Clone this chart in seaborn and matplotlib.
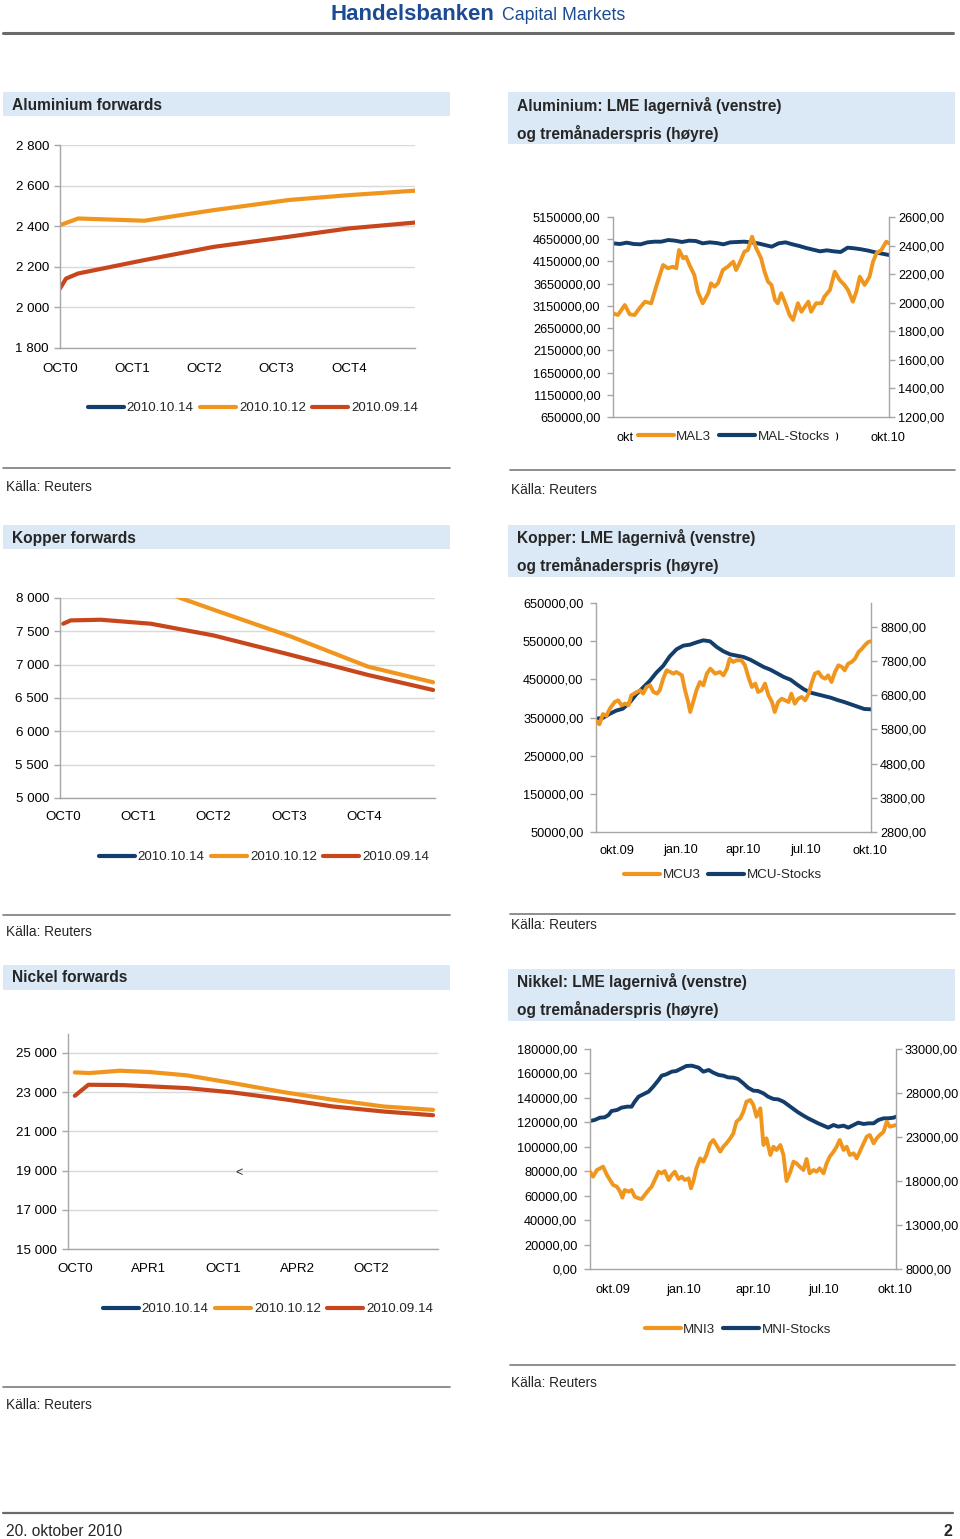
import numpy as np
import pandas as pd
import matplotlib
matplotlib.use("Agg")
import matplotlib.pyplot as plt
import seaborn as sns
from matplotlib.patches import Rectangle
from matplotlib.lines import Line2D
from matplotlib.ticker import FuncFormatter

sns.set_theme(style="white")
plt.rcParams['font.family'] = ['Liberation Sans', 'DejaVu Sans']

# ------------------------------------------------------------------ data
fwd_series = ["2010.10.14", "2010.10.12", "2010.09.14"]

# Aluminium forwards (months from OCT0)
al_ticks = [0, 12, 24, 36, 48]
al_labels = ["OCT0", "OCT1", "OCT2", "OCT3", "OCT4"]
al_1014_m, al_1014 = [], []
al_1012_m = [0, 3, 14, 25.5, 38, 48, 59]
al_1012 = [2405, 2438, 2427, 2479, 2529, 2553, 2575]
al_0914_m = [0, 1, 3, 14, 25.5, 38, 48, 59]
al_0914 = [2093, 2142, 2167, 2233, 2298, 2348, 2389, 2418]

# Copper forwards
cu_ticks = [0, 12, 24, 36, 48]
cu_labels = ["OCT0", "OCT1", "OCT2", "OCT3", "OCT4"]
cu_1014_m, cu_1014 = [], []
cu_1012_m = [0, 12, 18.7, 24, 36.3, 48.6, 59]
cu_1012 = [8550, 8250, 8000, 7824, 7423, 6971, 6736]
cu_0914_m = [0, 1.2, 6, 14, 24, 36.3, 48.6, 59]
cu_0914 = [7614, 7664, 7674, 7614, 7438, 7147, 6846, 6620]

# Nickel forwards
ni_ticks = [0, 6, 12, 18, 24]
ni_labels = ["OCT0", "APR1", "OCT1", "APR2", "OCT2"]
ni_1014_m, ni_1014 = [], []
ni_1012_m = [0, 1.2, 3.65, 6.1, 9.1, 12.8, 16.9, 20.9, 25, 29]
ni_1012 = [24010, 23976, 24096, 24027, 23857, 23464, 23003, 22611, 22270, 22099]
ni_0914_m = [0, 1.1, 3.9, 9.1, 12.8, 16.9, 20.9, 25, 29]
ni_0914 = [22816, 23379, 23362, 23208, 22986, 22645, 22270, 22014, 21826]

# LME time series (days from 2009-09-01)
START = pd.Timestamp("2009-09-01")
END = pd.Timestamp("2010-10-03")
lme_tick_dates = ["2009-10-01", "2010-01-01", "2010-04-01", "2010-07-01", "2010-10-01"]
lme_tick_labels = ["okt.09", "jan.10", "apr.10", "jul.10", "okt.10"]

mal3_day = [0, 7, 17, 24, 31, 38, 46, 55, 62, 72, 79, 86, 91, 95, 101, 105, 110, 117, 122, 129,
            137, 141, 146, 151, 158, 165, 173, 177, 182, 189, 194, 200, 206, 213, 218, 223, 228,
            233, 237, 242, 247, 254, 259, 266, 271, 276, 281, 285, 292, 300, 304, 312, 319, 326,
            333, 338, 345, 350, 355, 362, 369, 374, 379, 386, 393, 397]
mal3 = [1926, 1914, 1984, 1919, 1914, 1961, 2007, 1996, 2112, 2264, 2241, 2252, 2241, 2369, 2311,
        2322, 2264, 2194, 2077, 1996, 2066, 2136, 2112, 2136, 2229, 2252, 2287, 2229, 2276, 2357,
        2369, 2462, 2381, 2311, 2217, 2147, 2124, 2019, 1996, 2066, 2007, 1914, 1879, 1996, 1937,
        1972, 2007, 1937, 1996, 1996, 2042, 2089, 2217, 2159, 2124, 2089, 2007, 2077, 2182, 2124,
        2182, 2287, 2346, 2369, 2427, 2416]
mal_stocks = [4557500, 4542500, 4572500, 4542500, 4535000, 4580000, 4595000, 4595000, 4632500,
              4617500, 4587500, 4617500, 4610000, 4557500, 4580000, 4565000, 4535000, 4580000,
              4587500, 4595000, 4580000, 4557500, 4520000, 4482500, 4557500, 4580000, 4535000,
              4497500, 4452500, 4415000, 4377500, 4400000, 4377500, 4362500, 4460000, 4445000,
              4422500, 4392500, 4355000, 4325000, 4295000]

mcu3_day = [0, 5, 10, 15, 20, 27, 32, 37, 42, 47, 51, 59, 64, 68, 73, 78, 83, 88, 92, 97, 102, 107,
            112, 116, 124, 128, 133, 136, 141, 145, 150, 155, 160, 165, 172, 179, 184, 189, 193,
            198, 203, 210, 215, 220, 225, 230, 234, 239, 244, 249, 254, 258, 263, 268, 273, 278,
            282, 287, 292, 297, 302, 307, 311, 316, 321, 326, 331, 335, 340, 345, 350, 355, 359,
            364, 369, 374, 379, 384, 388, 393, 397]
mcu3 = [6050, 5950, 6250, 6200, 6409, 6604, 6652, 6506, 6555, 6506, 6799, 6896, 6945, 6847, 7042,
        7091, 6896, 6847, 6945, 7286, 7530, 7481, 7433, 7481, 7384, 6994, 6604, 6311, 6652, 6945,
        7189, 7091, 7433, 7579, 7433, 7481, 7384, 7579, 7872, 7774, 7823, 7823, 7677, 7335, 7042,
        7140, 6896, 6945, 7140, 6799, 6604, 6311, 6604, 6701, 6652, 6604, 6847, 6555, 6701, 6750,
        6652, 6847, 7140, 7433, 7481, 7335, 7286, 7384, 7189, 7481, 7677, 7628, 7530, 7725, 7774,
        7872, 8067, 8164, 8262, 8359, 8379]
mcu_stocks = [347000, 348700, 359200, 367900, 373100, 388800, 410700, 428200, 445600, 467500,
              484900, 510300, 528600, 538200, 540800, 546900, 552200, 549600, 534700, 523400,
              515500, 512000, 508500, 501500, 491900, 482300, 475300, 465700, 456100, 449100,
              436000, 423800, 415100, 410700, 406300, 401900, 395800, 390600, 384500, 378400,
              372300, 371400]

mni3_day = [0, 4, 9, 13, 17, 22, 26, 30, 35, 39, 42, 45, 50, 54, 58, 63, 67, 71, 76, 80, 84, 89, 93,
            97, 102, 106, 110, 115, 119, 123, 128, 131, 134, 138, 143, 147, 151, 156, 160, 164, 169,
            173, 177, 182, 186, 190, 195, 199, 203, 208, 212, 216, 221, 225, 229, 234, 238, 242,
            247, 251, 255, 260, 264, 268, 272, 277, 281, 285, 290, 294, 298, 303, 307, 311, 316,
            320, 324, 329, 333, 337, 342, 346, 350, 355, 359, 363, 368, 372, 376, 381, 385, 389,
            394, 397]
mni3 = [19060, 18492, 19249, 19439, 19628, 18681, 18113, 17545, 17355, 16787, 16105, 16977, 16787,
        16977, 16219, 16030, 15954, 16408, 16977, 17355, 18113, 19060, 18871, 19136, 18113, 18681,
        19060, 18227, 18492, 18113, 18302, 17166, 17924, 19439, 20575, 20196, 20954, 22280, 22659,
        22090, 21333, 21901, 22280, 22848, 23416, 24742, 25121, 25878, 27015, 27204, 26636, 25310,
        26257, 22090, 22848, 20954, 21901, 21522, 22090, 20954, 17999, 19060, 20196, 20007, 19628,
        19249, 20499, 18871, 19249, 19060, 19439, 18871, 20007, 20765, 21333, 21901, 22659, 21522,
        21901, 20954, 21143, 20575, 21333, 22280, 23037, 23226, 22280, 22848, 23226, 23605, 24742,
        24174, 24288, 24364]
mni_stock_day = [0, 6, 13, 19, 24, 28, 35, 41, 48, 54, 58, 63, 69, 76, 82, 89, 93, 99, 106, 112,
                 119, 125, 132, 141, 147, 154, 160, 167, 173, 179, 186, 192, 199, 205, 212, 218,
                 225, 231, 238, 244, 251, 257, 264, 270, 277, 283, 290, 296, 303, 309, 316, 322,
                 329, 335, 342, 348, 355, 361, 368, 374, 381, 387, 394, 397]
mni_stocks = [121096, 121914, 123823, 124096, 126005, 129277, 130096, 132005, 132823, 132823,
              136913, 141004, 142913, 145094, 149185, 154637, 158184, 159274, 161456, 162001,
              164183, 166092, 166364, 164728, 161456, 162820, 160638, 158729, 158184, 156820,
              156547, 155456, 151911, 148366, 145912, 145639, 143730, 141004, 139095, 138822,
              136913, 134186, 130913, 128186, 125460, 123278, 121096, 119187, 117278, 115642,
              117823, 116460, 117278, 115642, 117823, 119732, 118642, 119187, 119187, 121914,
              123278, 123278, 123823, 124641]

# ------------------------------------------------------------------ style
W, H = 960, 1539
NAVY = '#133d6b'
ORANGE = '#f0961e'
RED = '#c8461c'
BOXC = '#dbe9f7'
GRID = '#d9d9d9'
SPINE = '#a6a6a6'
SEP = '#7a7a7a'
TXT = '#000000'
FS = 9.6
FS_LME = 9.2
FS_TITLE = 11.2

fig = plt.figure(figsize=(W / 100, H / 100), dpi=100)
fig.patch.set_facecolor('white')


def add_ax(l, t, r, b):
    return fig.add_axes([l / W, 1 - b / H, (r - l) / W, (b - t) / H])


def ftext(x, y, s, **kw):
    kw.setdefault('va', 'center')
    kw.setdefault('ha', 'left')
    fig.text(x / W, 1 - y / H, s, **kw)


def box(l, t, r, b):
    fig.add_artist(Rectangle((l / W, 1 - b / H), (r - l) / W, (b - t) / H,
                             transform=fig.transFigure, facecolor=BOXC,
                             edgecolor='none', zorder=0))


def hline(x0, x1, y, lw=1.2, color=SEP):
    fig.add_artist(Line2D([x0 / W, x1 / W], [1 - y / H, 1 - y / H],
                          transform=fig.transFigure, color=color, lw=lw))


def thousands(v, p):
    return f"{int(round(v)):,}".replace(',', ' ')


def comma2(v, p):
    return f"{v:.2f}".replace('.', ',')


def fwd_panel(rect, series, xlim, ylim, yticks, xticks, xlabels, xpad, leg_c):
    ax = add_ax(*rect)
    cols = [NAVY, ORANGE, RED]
    handles = []
    for (m, v), c in zip(series, cols):
        if len(m):
            sns.lineplot(x=m, y=v, ax=ax, color=c, lw=3.0, estimator=None, sort=False)
        handles.append(Line2D([], [], color=c, lw=3.0))
    ax.set_xlim(xlim)
    ax.set_ylim(ylim)
    ax.set_yticks(yticks)
    ax.yaxis.set_major_formatter(FuncFormatter(thousands))
    ax.set_xticks(xticks)
    ax.set_xticklabels(xlabels)
    ax.grid(axis='y', color=GRID, lw=1)
    ax.grid(axis='x', visible=False)
    ax.set_axisbelow(True)
    for s in ['top', 'right']:
        ax.spines[s].set_visible(False)
    for s in ['left', 'bottom']:
        ax.spines[s].set_color(SPINE)
        ax.spines[s].set_linewidth(1)
    ax.tick_params(axis='y', left=True, length=4, width=1, color=SPINE,
                   labelsize=FS, pad=4, labelcolor=TXT)
    ax.tick_params(axis='x', bottom=False, length=0, labelsize=FS, pad=xpad,
                   labelcolor=TXT)
    ax.set_xlabel('')
    ax.set_ylabel('')
    ax.legend(handles, fwd_series, loc='center',
              bbox_to_anchor=(leg_c[0] / W, 1 - leg_c[1] / H),
              bbox_transform=fig.transFigure, ncol=3, frameon=False,
              handlelength=2.7, handletextpad=0.2, columnspacing=0.5,
              fontsize=FS, borderaxespad=0, borderpad=0)
    return ax


def lme_panel(rect, stock_x, stock_y, price_x, price_y, lylim, lyticks,
              rylim, ryticks, names, leg_c, xpad, cover=False):
    ax = add_ax(*rect)
    ax2 = ax.twinx()
    sns.lineplot(x=stock_x, y=stock_y, ax=ax, color=NAVY, lw=2.8,
                 estimator=None, sort=False)
    sns.lineplot(x=price_x, y=price_y, ax=ax2, color=ORANGE, lw=2.8,
                 estimator=None, sort=False)
    ax.set_xlim(START, END)
    ax.set_ylim(lylim)
    ax.set_yticks(lyticks)
    ax.yaxis.set_major_formatter(FuncFormatter(comma2))
    ax2.set_ylim(rylim)
    ax2.set_yticks(ryticks)
    ax2.yaxis.set_major_formatter(FuncFormatter(comma2))
    ax.set_xticks([pd.Timestamp(d) for d in lme_tick_dates])
    ax.set_xticklabels(lme_tick_labels)
    for a in (ax, ax2):
        a.grid(False)
        a.set_xlabel('')
        a.set_ylabel('')
        for s in a.spines.values():
            s.set_visible(False)
    ax.spines['left'].set_visible(True)
    ax.spines['bottom'].set_visible(True)
    ax2.spines['right'].set_visible(True)
    for s in (ax.spines['left'], ax.spines['bottom'], ax2.spines['right']):
        s.set_color(SPINE)
        s.set_linewidth(1)
    ax.tick_params(axis='y', left=True, length=4, width=1, color=SPINE,
                   labelsize=FS_LME, pad=5, labelcolor=TXT)
    ax2.tick_params(axis='y', right=True, length=4, width=1, color=SPINE,
                    labelsize=FS_LME, pad=2.5, labelcolor=TXT)
    ax.tick_params(axis='x', bottom=False, length=0, labelsize=FS_LME, pad=xpad,
                   labelcolor=TXT)
    ax2.tick_params(axis='x', bottom=False, labelbottom=False)
    handles = [Line2D([], [], color=ORANGE, lw=3.0), Line2D([], [], color=NAVY, lw=3.0)]
    leg = ax2.legend(handles, names, loc='center',
                     bbox_to_anchor=(leg_c[0] / W, 1 - leg_c[1] / H),
                     bbox_transform=fig.transFigure, ncol=2,
                     frameon=cover, handlelength=2.7, handletextpad=0.2,
                     columnspacing=0.6, fontsize=FS, borderaxespad=0,
                     borderpad=0.35)
    if cover:
        leg.get_frame().set_facecolor('white')
        leg.get_frame().set_edgecolor('white')
        leg.get_frame().set_alpha(1)
        leg.get_frame().set_boxstyle('square', pad=0)
    return ax, ax2


def dates_from(days):
    return START + pd.to_timedelta(np.asarray(days, dtype=float), unit='D')


def dates_even(n):
    return pd.date_range(START, END, periods=n)


# ------------------------------------------------------------------ header / footer
ftext(331, 15, "Handelsbanken", fontsize=16, fontweight='bold', color='#1d4b93')
ftext(502, 16, "Capital Markets", fontsize=12.8, color='#1d4b93')
hline(3, 953, 33, lw=2.2, color='#6b6b6b')
hline(3, 953, 1513, lw=1.6, color='#6b6b6b')
ftext(6, 1531, "20. oktober 2010", fontsize=11.2)
ftext(952, 1531, "2", fontsize=11.5, fontweight='bold', ha='right')

# ------------------------------------------------------------------ title boxes
box(3, 92, 450, 116)
ftext(12, 105, "Aluminium forwards", fontsize=FS_TITLE, fontweight='bold')
box(508, 92, 955, 144)
ftext(517, 105, "Aluminium: LME lagernivå (venstre)", fontsize=FS_TITLE, fontweight='bold')
ftext(517, 133, "og tremånaderspris (høyre)", fontsize=FS_TITLE, fontweight='bold')

box(3, 525, 450, 549)
ftext(12, 538, "Kopper forwards", fontsize=FS_TITLE, fontweight='bold')
box(508, 525, 955, 577)
ftext(517, 538, "Kopper: LME lagernivå (venstre)", fontsize=FS_TITLE, fontweight='bold')
ftext(517, 566, "og tremånaderspris (høyre)", fontsize=FS_TITLE, fontweight='bold')

box(3, 965, 450, 990)
ftext(12, 978, "Nickel forwards", fontsize=FS_TITLE, fontweight='bold')
box(508, 969, 955, 1021)
ftext(517, 982, "Nikkel: LME lagernivå (venstre)", fontsize=FS_TITLE, fontweight='bold')
ftext(517, 1010, "og tremånaderspris (høyre)", fontsize=FS_TITLE, fontweight='bold')

# ------------------------------------------------------------------ source lines
SRC = 9.8
hline(3, 450, 468)
ftext(6, 487, "Källa: Reuters", fontsize=SRC)
hline(510, 955, 470)
ftext(511, 490, "Källa: Reuters", fontsize=SRC)
hline(3, 450, 915)
ftext(6, 932, "Källa: Reuters", fontsize=SRC)
hline(510, 955, 914)
ftext(511, 925, "Källa: Reuters", fontsize=SRC)
hline(3, 450, 1387)
ftext(6, 1405, "Källa: Reuters", fontsize=SRC)
hline(510, 955, 1365)
ftext(511, 1383, "Källa: Reuters", fontsize=SRC)

# ------------------------------------------------------------------ forwards panels
fwd_panel((60, 145, 415, 348),
          [(al_1014_m, al_1014), (al_1012_m, al_1012), (al_0914_m, al_0914)],
          (0, 59), (1800, 2800), list(range(1800, 2801, 200)),
          al_ticks, al_labels, 11, (253, 408))

fwd_panel((60, 598, 435, 798),
          [(cu_1014_m, cu_1014), (cu_1012_m, cu_1012), (cu_0914_m, cu_0914)],
          (-0.5, 59.3), (5000, 8000), list(range(5000, 8001, 500)),
          cu_ticks, cu_labels, 9, (264, 857))

fwd_panel((68, 1034, 438, 1249),
          [(ni_1014_m, ni_1014), (ni_1012_m, ni_1012), (ni_0914_m, ni_0914)],
          (-0.55, 29.4), (15000, 25969), list(range(15000, 25001, 2000)),
          ni_ticks, ni_labels, 10, (268, 1309))
ftext(235, 1173, "<", fontsize=9)

# ------------------------------------------------------------------ LME panels
lme_panel((613, 217, 889, 417),
          dates_even(len(mal_stocks)), mal_stocks, dates_from(mal3_day), mal3,
          (650000, 5150000), list(range(650000, 5150001, 500000)),
          (1200, 2600), list(range(1200, 2601, 200)),
          ["MAL3", "MAL-Stocks"], (734, 437), 11, cover=True)

lme_panel((596, 603, 871, 832),
          dates_even(len(mcu_stocks)), mcu_stocks, dates_from(mcu3_day), mcu3,
          (50000, 650000), list(range(50000, 650001, 100000)),
          (2800, 9500), list(range(2800, 8801, 1000)),
          ["MCU3", "MCU-Stocks"], (723, 875), 9)

lme_panel((590, 1049, 896, 1269),
          dates_from(mni_stock_day), mni_stocks, dates_from(mni3_day), mni3,
          (0, 180000), list(range(0, 180001, 20000)),
          (8000, 33000), list(range(8000, 33001, 5000)),
          ["MNI3", "MNI-Stocks"], (738, 1330), 11)

fig.savefig("out.png", dpi=100, facecolor='white')
